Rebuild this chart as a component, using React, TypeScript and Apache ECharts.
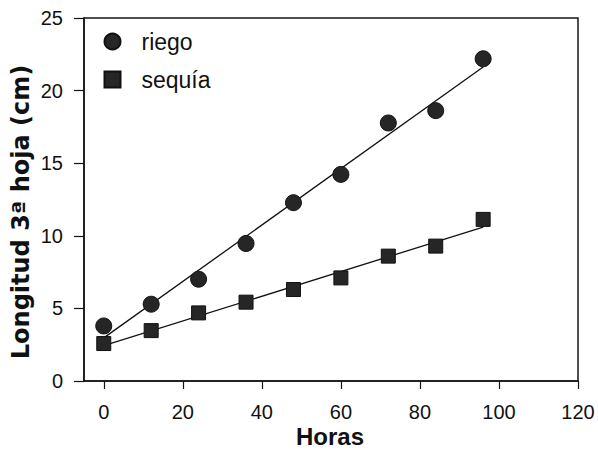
import React, { useEffect, useRef } from "react";
import * as echarts from "echarts";

const horas = [0, 12, 24, 36, 48, 60, 72, 84, 96];
const riego = [3.79, 5.29, 7.01, 9.47, 12.28, 14.23, 17.77, 18.62, 22.19];
const sequia = [2.58, 3.47, 4.69, 5.43, 6.3, 7.1, 8.6, 9.29, 11.13];
const riegoFit = [[0, 2.97], [96, 21.62]];
const sequiaFit = [[0, 2.43], [96, 10.6]];
const xTicks = [0, 20, 40, 60, 80, 100, 120];
const yTicks = [0, 5, 10, 15, 20, 25];
const xTitle = "Horas";
const yTitle = "Longitud 3ª hoja (cm)";

const SANS = "'Liberation Sans', Arial, Helvetica, sans-serif";
const WIDE = "'DejaVu Sans', 'Liberation Sans', Arial, sans-serif";
const INK = "#141414";

export default function App() {
  const ref = useRef<HTMLDivElement>(null);
  useEffect(() => {
    if (!ref.current) return;
    const chart = echarts.init(ref.current, undefined, { renderer: "svg" });
    chart.setOption({
      animation: false,
      backgroundColor: "#fff",
      textStyle: { fontFamily: SANS },
      grid: {
        left: 84,
        top: 18,
        right: 20,
        bottom: 69,
        outerBoundsMode: "none",
        containLabel: false,
        show: true,
        borderColor: INK,
        borderWidth: 1.5,
        backgroundColor: "transparent",
      },
      legend: {
        data: [
          { name: "riego", icon: "circle" },
          { name: "sequía", icon: "rect" },
        ],
        orient: "vertical",
        left: 98.5,
        top: 25,
        itemWidth: 16,
        itemHeight: 16,
        itemGap: 15,
        textStyle: { fontFamily: SANS, fontSize: 23, color: "#111", lineHeight: 22, padding: [0, 0, 0, 16] },
      },
      graphic: [
        {
          type: "text",
          x: 21,
          y: 212,
          rotation: Math.PI / 2,
          style: {
            text: yTitle,
            font: `bold 24px ${WIDE}`,
            fill: "#111",
            align: "center",
            verticalAlign: "middle",
          },
        },
        {
          type: "text",
          x: 330,
          y: 436,
          style: {
            text: xTitle,
            font: `bold 24px ${SANS}`,
            fill: "#111",
            align: "center",
            verticalAlign: "middle",
          },
        },
      ],
      xAxis: {
        type: "value",
        min: -5,
        max: 120,
        axisLine: { show: true, onZero: false, lineStyle: { color: INK, width: 1.5 } },
        axisTick: { show: true, inside: false, length: 8, customValues: xTicks, lineStyle: { color: INK, width: 1.2 } },
        axisLabel: { customValues: xTicks, margin: 21, fontSize: 20, color: "#111", fontFamily: SANS },
        splitLine: { show: false },
      },
      yAxis: {
        type: "value",
        min: 0,
        max: 25,
        interval: 5,
        axisLine: { show: true, onZero: false, lineStyle: { color: INK, width: 1.5 } },
        axisTick: { show: true, inside: false, length: 10, customValues: yTicks, lineStyle: { color: INK, width: 1.2 } },
        axisLabel: { customValues: yTicks, margin: 21, fontSize: 20, color: "#111", fontFamily: SANS },
        splitLine: { show: false },
      },
      series: [
        {
          name: "riegoFit",
          type: "line",
          data: riegoFit,
          symbol: "none",
          lineStyle: { color: "#111", width: 1.3 },
          z: 1,
        },
        {
          name: "sequiaFit",
          type: "line",
          data: sequiaFit,
          symbol: "none",
          lineStyle: { color: "#111", width: 1.3 },
          z: 1,
        },
        {
          name: "riego",
          type: "scatter",
          data: horas.map((h, i) => [h, riego[i]]),
          symbol: "circle",
          symbolSize: 16,
          itemStyle: { color: "#262626", borderColor: "#111", borderWidth: 1, opacity: 1 },
          z: 3,
        },
        {
          name: "sequía",
          type: "scatter",
          data: horas.map((h, i) => [h, sequia[i]]),
          symbol: "rect",
          symbolSize: 14,
          itemStyle: { color: "#262626", borderColor: "#111", borderWidth: 1, opacity: 1 },
          z: 3,
        },
      ],
    });
    return () => chart.dispose();
  }, []);
  return <div ref={ref} style={{ width: 598, height: 450, position: "absolute", left: 0, top: 0 }} />;
}
